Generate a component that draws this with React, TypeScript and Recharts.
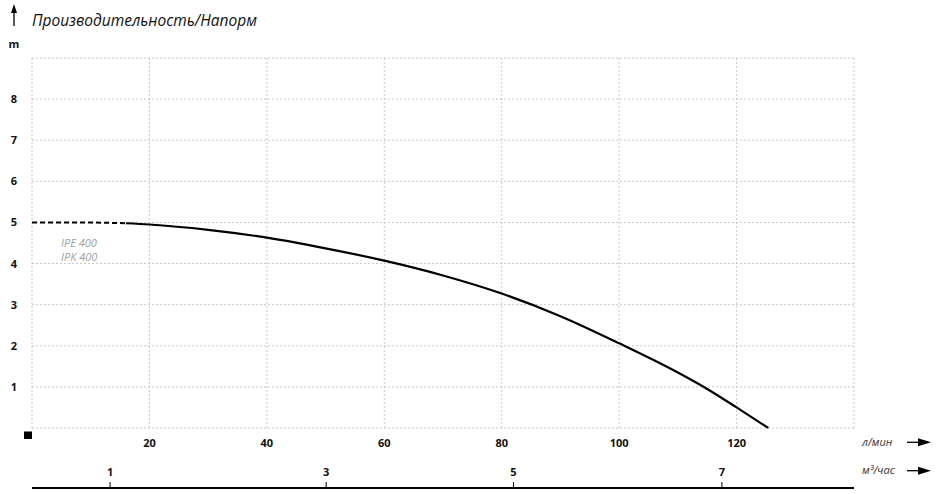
import React from 'react';
import { ComposedChart, Line, XAxis, YAxis, CartesianGrid, ReferenceDot } from 'recharts';

// pump curve, flow in л/мин, head in m
const flowLpm = [0, 8, 16, 20, 30, 40, 50, 60, 70, 80, 90, 100, 110, 115, 120, 125.4];
const headM = [5.0, 5.0, 4.98, 4.95, 4.82, 4.63, 4.37, 4.07, 3.71, 3.27, 2.72, 2.06, 1.35, 0.95, 0.5, 0];
const dashedUntil = 16; // curve is dashed below this flow

const lpmTicks = [0, 20, 40, 60, 80, 100, 120, 140];
const headTicks = [0, 1, 2, 3, 4, 5, 6, 7, 8, 9];
// second scale (м³/час), placed on the л/мин scale where the labels sit
const m3Labels = ['1', '3', '5', '7'];
const m3TickAt = [13.3, 50.1, 82.0, 117.5];

const modelNames = ['IPE 400', 'IPK 400'];
const title = 'Производительность/Напорм';

const FONT = "'Open Sans', sans-serif";

const data = flowLpm.map((q, i) => ({
  q,
  dashed: q <= dashedUntil ? headM[i] : null,
  solid: q >= dashedUntil ? headM[i] : null,
}));

function LpmTick(props: any) {
  const { x, y, payload } = props;
  if (payload.value === 0 || payload.value === 140) return <g />;
  return (
    <text x={x} y={y + 19} textAnchor="middle" fontFamily={FONT} fontWeight={700} fontSize={11} fill="#111">
      {payload.value}
    </text>
  );
}

function M3Tick(props: any) {
  const { x, y, payload } = props;
  const label = m3Labels[m3TickAt.indexOf(payload.value)];
  return (
    <g>
      <line x1={x} x2={x} y1={y - 6} y2={y} stroke="#000" strokeWidth={1} />
      <text x={x} y={y - 12} textAnchor="middle" fontFamily={FONT} fontWeight={700} fontSize={11} fill="#111">
        {label}
      </text>
    </g>
  );
}

function HeadTick(props: any) {
  const { x, y, payload } = props;
  if (payload.value === 0 || payload.value === 9) return <g />;
  return (
    <text x={x - 18} y={y + 4} textAnchor="middle" fontFamily={FONT} fontWeight={700} fontSize={11} fill="#111">
      {payload.value}
    </text>
  );
}

function Arrow({ x1, x2, y }: { x1: number; x2: number; y: number }) {
  return (
    <g>
      <line x1={x1} x2={x2 - 8} y1={y} y2={y} stroke="#000" strokeWidth={1.3} />
      <polygon points={`${x2},${y} ${x2 - 13},${y - 4} ${x2 - 13},${y + 4}`} fill="#000" />
    </g>
  );
}

export default function App() {
  return (
    <div style={{ position: 'absolute', left: 0, top: 0, width: 938, height: 494, background: '#fff' }}>
      <ComposedChart width={938} height={494} data={data} margin={{ top: 58, right: 84, bottom: 0, left: 0 }}>
        <CartesianGrid xAxisId="lpm" stroke="#c8c8c8" strokeDasharray="2 2" />
        <XAxis
          xAxisId="lpm"
          dataKey="q"
          type="number"
          domain={[0, 140]}
          ticks={lpmTicks}
          interval={0}
          height={60}
          axisLine={false}
          tickLine={false}
          tickSize={0}
          tickMargin={0}
          tick={LpmTick}
        />
        <XAxis
          xAxisId="m3"
          dataKey="q"
          type="number"
          domain={[0, 140]}
          allowDataOverflow
          ticks={m3TickAt}
          interval={0}
          height={6}
          axisLine={{ stroke: '#000', strokeWidth: 2 }}
          tickLine={false}
          tickSize={0}
          tickMargin={0}
          tick={M3Tick}
        />
        <YAxis
          type="number"
          domain={[0, 9]}
          ticks={headTicks}
          interval={0}
          width={32}
          axisLine={false}
          tickLine={false}
          tickSize={0}
          tickMargin={0}
          tick={HeadTick}
        />
        <Line
          xAxisId="lpm"
          type="monotone"
          dataKey="dashed"
          stroke="#000"
          strokeWidth={2}
          strokeDasharray="5 3"
          dot={false}
          activeDot={false}
          isAnimationActive={false}
        />
        <Line
          xAxisId="lpm"
          type="monotone"
          dataKey="solid"
          stroke="#000"
          strokeWidth={2.2}
          dot={false}
          activeDot={false}
          isAnimationActive={false}
        />
        <ReferenceDot
          xAxisId="lpm"
          x={0}
          y={0}
          ifOverflow="visible"
          shape={(p: any) => <rect x={p.cx - 8} y={p.cy + 3.5} width={8} height={7.5} fill="#000" />}
        />
      </ComposedChart>
      <svg width={938} height={494} style={{ position: 'absolute', left: 0, top: 0, pointerEvents: 'none' }}>
        <line x1={14} x2={14} y1={11} y2={26} stroke="#000" strokeWidth={1.3} />
        <polygon points="14,4 11,13 17,13" fill="#000" />
        <text x={32} y={26} fontFamily={FONT} fontStyle="italic" fontSize={15.5} fill="#111">
          {title}
        </text>
        <text x={14} y={47.7} textAnchor="middle" fontFamily={FONT} fontWeight={700} fontSize={11} fill="#111">
          m
        </text>
        {modelNames.map((n, i) => (
          <text key={n} x={61} y={246.5 + i * 14.2} fontFamily={FONT} fontStyle="italic" fontSize={11} fill="#a0a0a0">
            {n}
          </text>
        ))}
        <text x={862} y={445.7} fontFamily={FONT} fontStyle="italic" fontSize={11} fill="#333">
          л/мин
        </text>
        <Arrow x1={907} x2={931} y={442.3} />
        <text x={862} y={474} fontFamily={FONT} fontStyle="italic" fontSize={11} fill="#333">
          м³/час
        </text>
        <Arrow x1={907} x2={931} y={470.7} />
      </svg>
    </div>
  );
}
